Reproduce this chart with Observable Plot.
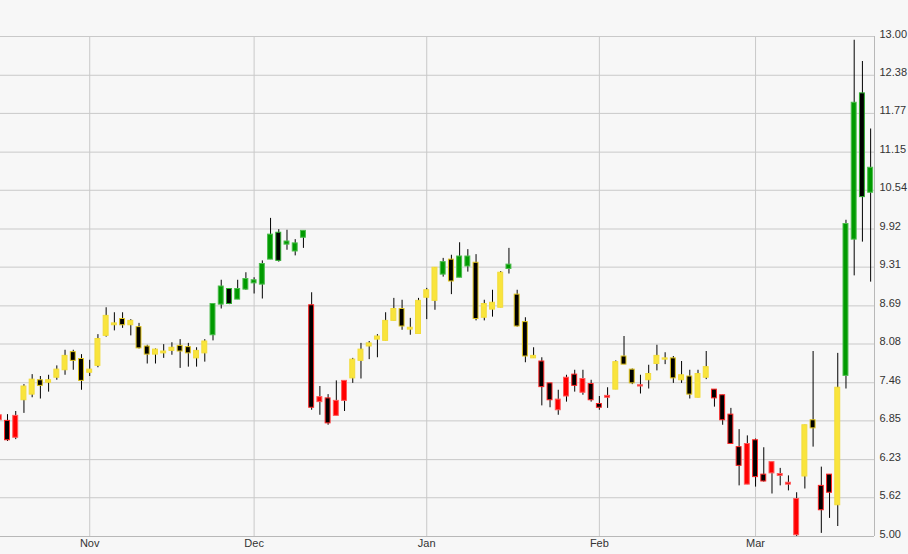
<!DOCTYPE html>
<html>
<head>
<meta charset="utf-8">
<script src="https://cdn.jsdelivr.net/npm/d3@7"></script>
<script src="https://cdn.jsdelivr.net/npm/@observablehq/plot@0.6"></script>
<style>
  html, body { margin: 0; padding: 0; background: #f7f7f7; }
  #chart { width: 908px; height: 554px; }
</style>
</head>
<body>
<div id="chart"></div>
<script>
// ---- data (trading-day index starts at -1, first candle partly off-chart) ----
const firstIndex = -1;
const opens  = [6.86,6.85,6.58,7.18,7.27,7.50,7.46,7.54,7.66,7.95,7.84,7.62,7.73,8.21,8.38,8.48,8.38,8.35,8.04,7.91,7.93,7.97,8.05,8.03,7.85,7.93,
  8.22,8.71,8.96,8.79,8.95,9.05,9.03,9.43,9.86,9.67,9.56,9.78,8.70,7.15,7.21,6.93,7.17,7.53,7.81,8.04,8.15,8.13,8.45,8.64,8.31,8.24,
  8.82,8.77,9.19,9.43,9.14,9.32,9.38,8.50,8.63,8.66,9.28,8.87,8.43,7.85,7.80,7.45,7.02,7.24,7.59,7.30,7.44,7.12,7.22,
  7.35,7.88,7.67,7.40,7.50,7.76,7.83,7.85,7.50,7.56,7.22,7.54,7.35,7.26,6.95,6.43,5.83,6.54,5.99,6.01,5.97,5.83,5.02,5.96,6.86,5.81,5.99,5.50,7.57,9.75,12.09,10.50];
const highs  = [6.96,6.95,7.00,7.43,7.59,7.56,7.58,7.73,7.98,7.98,7.91,7.82,8.23,8.66,8.58,8.58,8.47,8.41,8.06,8.00,8.07,8.10,8.15,8.09,8.02,8.15,
  8.72,9.10,8.96,9.10,9.22,9.14,9.41,10.09,9.91,9.90,9.75,9.89,8.90,7.40,7.27,7.49,7.49,7.85,8.09,8.12,8.23,8.58,8.81,8.78,8.49,8.81,
  8.97,9.30,9.45,9.50,9.70,9.59,9.51,8.78,8.94,9.24,9.61,8.94,8.50,8.02,7.86,7.45,7.34,7.58,7.66,7.66,7.50,7.24,7.38,
  7.81,8.20,7.68,7.58,7.74,8.06,7.94,7.88,7.80,7.66,7.66,7.96,7.35,7.26,7.05,6.71,6.61,6.56,6.42,6.19,6.09,5.97,5.70,6.78,7.96,6.11,5.99,7.93,10.06,12.94,12.60,11.52];
const lows   = [6.83,6.52,6.55,6.97,7.22,7.20,7.31,7.50,7.58,7.66,7.34,7.56,7.70,8.19,8.29,8.33,8.21,8.00,7.76,7.76,7.85,7.90,7.69,7.71,7.71,7.79,
  8.13,8.64,8.71,8.79,8.94,8.88,8.80,9.43,9.39,9.58,9.49,9.61,7.02,6.94,6.78,6.93,7.00,7.45,7.52,7.83,7.86,8.13,8.45,8.30,8.22,8.24,
  8.47,8.62,9.15,8.87,9.14,9.23,8.45,8.45,8.51,8.66,9.20,8.35,7.78,7.85,7.09,7.06,6.94,7.15,7.31,7.26,7.15,7.02,7.05,
  7.35,7.75,7.43,7.28,7.36,7.65,7.75,7.45,7.45,7.20,7.22,7.51,7.07,6.78,6.48,5.81,5.83,5.79,5.87,5.68,5.81,5.73,5.00,5.76,6.43,5.05,5.29,5.16,7.36,9.17,9.71,9.07];
const closes = [6.94,6.54,6.93,7.40,7.51,7.41,7.50,7.67,7.89,7.81,7.49,7.67,8.16,8.53,8.41,8.38,8.45,8.01,7.91,7.99,7.96,8.02,7.96,7.93,7.97,8.12,
  8.72,9.00,8.72,8.96,9.12,9.10,9.36,9.83,9.41,9.72,9.69,9.89,7.06,7.23,6.81,7.17,7.49,7.83,7.99,8.09,8.20,8.45,8.64,8.36,8.34,8.77,
  8.94,9.30,9.39,9.08,9.48,9.48,8.48,8.72,8.74,9.22,9.35,8.36,7.88,7.89,7.39,7.18,7.19,7.54,7.41,7.52,7.18,7.06,7.25,
  7.79,7.75,7.45,7.42,7.60,7.89,7.85,7.53,7.58,7.27,7.60,7.71,7.21,6.86,6.48,6.13,6.48,5.95,5.88,6.19,6.00,5.86,5.60,6.78,6.73,5.42,5.70,7.38,10.00,11.94,10.43,10.90];
// colour band of each candle: R = red, Y = yellow, G = green
const tones = "RRR" + "YYYYYYYYYYYYYYYYYYYYYYY" + "GGGGGGGGGGGG" + "RRRRR" + "YYYYYYYYYYY" +
  "GYGGYYYYGYYY" + "RRRRRRRRR" + "YYY" + "R" + "YYYYYYYY" + "RRRRRRRRRRR" + "YY" + "RR" + "Y" + "GGGG";

const yTicks = [5.00, 5.62, 6.23, 6.85, 7.46, 8.08, 8.69, 9.31, 9.92, 10.54, 11.15, 11.77, 12.38, 13.00];
const monthIdx = [10, 30, 51, 72, 91];
const monthLabels = ["Nov", "Dec", "Jan", "Feb", "Mar"];

// ---- styling ----
const upFill   = {R: "#ff0000", Y: "#f9e43c", G: "#009a00"};
const upStroke = {R: "#ff5a5a", Y: "#f2dc3a", G: "#4cbc4c"};
const dnStroke = {R: "#ff2424", Y: "#e0c41c", G: "#2fae2f"};

const rows = opens.map((o, j) => ({
  i: firstIndex + j, open: o, high: highs[j], low: lows[j], close: closes[j], tone: tones[j]
}));

const xDomain = [-0.852, 105.47];
const halfW = 0.3;

const chart = Plot.plot({
  width: 908,
  height: 554,
  marginLeft: 0,
  marginRight: 34,
  marginTop: 36,
  marginBottom: 18,
  style: {background: "#f7f7f7", fontFamily: "'Liberation Sans', Arial, sans-serif", overflow: "visible"},
  x: {type: "linear", domain: xDomain, axis: null},
  y: {domain: [5, 13], axis: null},
  marks: [
    Plot.ruleY(yTicks, {stroke: "#c9c9c9", strokeWidth: 1}),
    Plot.ruleX(monthIdx, {stroke: "#c9c9c9", strokeWidth: 1}),
    Plot.ruleX([xDomain[1]], {stroke: "#b8b8b8", strokeWidth: 1}),
    Plot.ruleY([5], {stroke: "#b8b8b8", strokeWidth: 1}),
    Plot.ruleX(rows, {x: "i", y1: "low", y2: "high", stroke: "#000", strokeWidth: 1, clip: true}),
    Plot.rect(rows, {
      x1: d => d.i - halfW, x2: d => d.i + halfW,
      y1: "open", y2: "close",
      fill: d => d.close >= d.open ? upFill[d.tone] : "#000",
      stroke: d => d.close >= d.open ? upStroke[d.tone] : dnStroke[d.tone],
      strokeWidth: 1,
      clip: true
    }),
    Plot.text(yTicks, {
      y: d => d, text: d => d.toFixed(2), frameAnchor: "right",
      textAnchor: "start", lineAnchor: "bottom", dx: 5, dy: 1,
      fill: "#333", fontSize: 11
    }),
    Plot.text(monthIdx, {
      x: d => d, text: (d, k) => monthLabels[k], frameAnchor: "bottom",
      lineAnchor: "top", dy: 3, fill: "#333", fontSize: 11
    })
  ]
});
document.getElementById("chart").appendChild(chart);
</script>
</body>
</html>
